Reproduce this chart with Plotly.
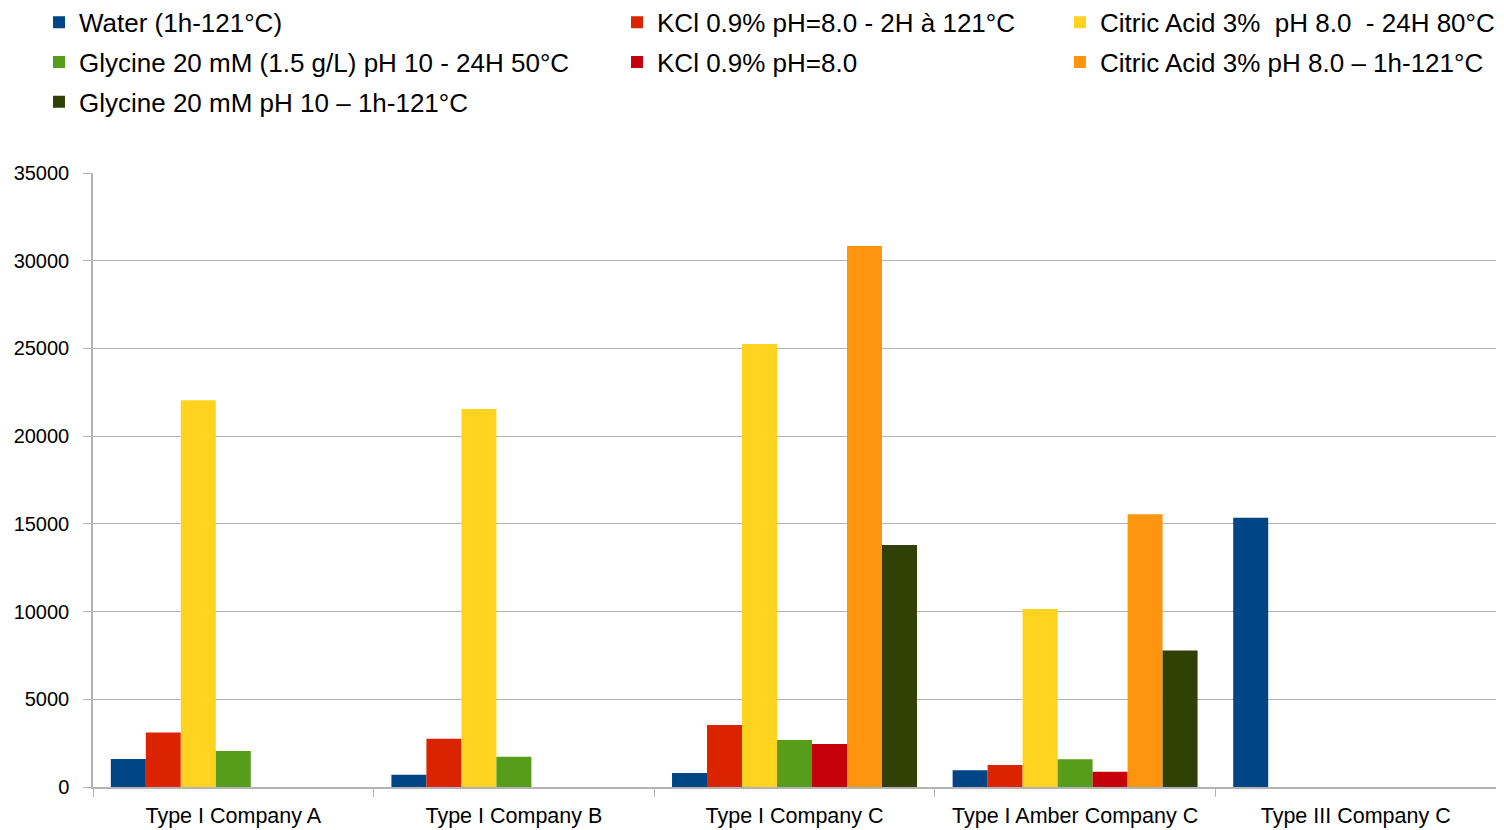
import plotly.graph_objects as go

categories = ["Type I Company A", "Type I Company B", "Type I Company C",
              "Type I Amber Company C", "Type III Company C"]

series_names = [
    "Water (1h-121°C)",
    "KCl 0.9% pH=8.0 - 2H à 121°C",
    "Citric Acid 3%  pH 8.0  - 24H 80°C",
    "Glycine 20 mM (1.5 g/L) pH 10 - 24H 50°C",
    "KCl 0.9% pH=8.0",
    "Citric Acid 3% pH 8.0 – 1h-121°C",
    "Glycine 20 mM pH 10 – 1h-121°C",
]

water = [1600, 700, 800, 950, 15350]
kcl_2h = [3100, 2750, 3530, 1250, None]
citric_24h = [22050, 21550, 25250, 10150, None]
glycine_24h = [2050, 1720, 2680, 1580, None]
kcl = [None, None, 2450, 870, None]
citric_1h = [None, None, 30840, 15550, None]
glycine_1h = [None, None, 13800, 7780, None]

values = [water, kcl_2h, citric_24h, glycine_24h, kcl, citric_1h, glycine_1h]
colors = ["#004586", "#dc2300", "#ffd320", "#579d1c", "#c5000b", "#ff950e", "#314004"]
legend_ids = ["legend", "legend2", "legend3", "legend", "legend2", "legend3", "legend"]

fig = go.Figure()
for name, vals, col, lg in zip(series_names, values, colors, legend_ids):
    fig.add_trace(go.Bar(
        x=categories, y=vals, name=name, marker_color=col,
        marker_line_width=0, legend=lg, legendgroup=name,
    ))

font_family = "Liberation Sans, Arial, sans-serif"
legend_common = dict(
    xref="paper", yref="paper", yanchor="top", xanchor="left",
    orientation="v", bgcolor="rgba(0,0,0,0)", borderwidth=0,
    font=dict(size=26, color="#000000", family=font_family),
    tracegroupgap=3, itemwidth=30,
)

fig.update_layout(
    width=1496, height=822,
    margin=dict(l=85, r=8, t=165, b=43, autoexpand=False),
    paper_bgcolor="white", plot_bgcolor="white",
    barmode="group", bargap=0.127, bargroupgap=0,
    font=dict(family=font_family, color="#000000"),
    legend=dict(x=-0.0385, y=1.2837, **legend_common),
    legend2=dict(x=0.3735, y=1.2837, **legend_common),
    legend3=dict(x=0.6892, y=1.2837, **legend_common),
    showlegend=True,
    xaxis=dict(
        type="category", showline=True, linecolor="#b3b3b3", linewidth=1.5,
        ticks="outside", tickson="boundaries", ticklen=8, tickcolor="#b3b3b3",
        tickfont=dict(size=21.5, color="#000000"), showgrid=False,
        mirror=False, tickangle=0, ticklabelstandoff=8,
    ),
    yaxis=dict(
        range=[0, 35000], dtick=5000, tickformat="d", showline=True,
        linecolor="#b3b3b3", linewidth=1.5, mirror=True, ticks="outside",
        ticklen=8, tickcolor="#b3b3b3", gridcolor="#b3b3b3", gridwidth=1.2,
        zeroline=False, tickfont=dict(size=20, color="#000000"),
        ticklabelstandoff=10,
    ),
)

fig.write_html("out.html")
